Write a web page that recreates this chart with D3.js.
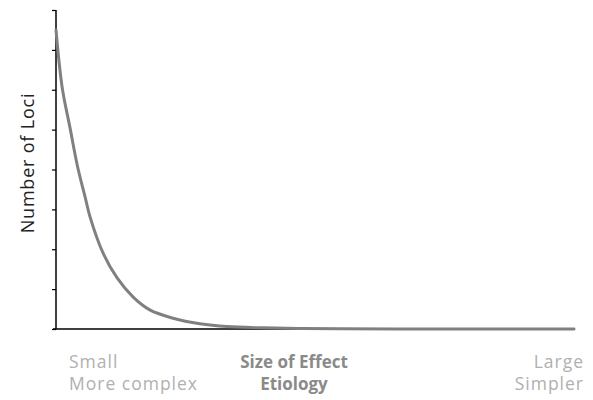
<!DOCTYPE html>
<html><head><meta charset="utf-8">
<script src="https://cdn.jsdelivr.net/npm/d3@7"></script>
<style>body{margin:0;background:#fff}svg{display:block}</style>
</head><body>
<script>
// Effect size (0 = small, 100 = large) and number of loci (arbitrary units)
const effectSize = [0, 1.2, 2.7, 4.2, 5.6, 6.6, 9.1, 11.8, 14.9, 18.1, 22.6, 27.8, 33, 40, 47, 55, 66, 80, 100];
const lociCount  = [7.5, 6.05, 5.05, 4.05, 3.32, 2.8, 1.9, 1.28, 0.8, 0.48, 0.27, 0.13, 0.06, 0.03, 0.015, 0.007, 0.003, 0.001, 0];
const yTicks = [0, 1, 2, 3, 4, 5, 6, 7, 8];
const yTitle = "Number of Loci";
const leftLabels = ["Small", "More complex"];
const centerLabels = ["Size of Effect", "Etiology"];
const rightLabels = ["Large", "Simpler"];

const W = 593, H = 400;
const m = {left: 56, right: 19, top: 10, bottom: 71};
const svg = d3.select("body").append("svg").attr("width", W).attr("height", H);

const x = d3.scaleLinear().domain([0, 100]).range([m.left, W - m.right]);
const y = d3.scaleLinear().domain([0, 8]).range([H - m.bottom, m.top]);

const font = "'Open Sans', sans-serif";

// y axis
const ya = svg.append("g").attr("transform", `translate(${m.left},0)`)
  .call(d3.axisLeft(y).tickValues(yTicks).tickSize(4).tickFormat(""));
ya.select(".domain").attr("stroke", "#000").attr("stroke-width", 1.5).attr("d", `M0,${y(8)}V${y(0)}`);
ya.selectAll(".tick line").attr("stroke", "#000").attr("stroke-width", 1.2);

// x axis
const xa = svg.append("g").attr("transform", `translate(0,${y(0)})`)
  .call(d3.axisBottom(x).tickValues([]).tickSizeOuter(0));
xa.select(".domain").attr("stroke", "#000").attr("stroke-width", 1.5)
  .attr("d", `M${m.left - 3},0H${x(100)}`);

// curve
const data = effectSize.map((e, i) => ({e, v: lociCount[i]}));
svg.append("path").datum(data)
  .attr("fill", "none").attr("stroke", "#808080").attr("stroke-width", 3).attr("stroke-linecap", "round")
  .attr("d", d3.line().x(d => x(d.e)).y(d => y(d.v)).curve(d3.curveCatmullRom.alpha(0.5)));

// y title
svg.append("text").attr("transform", `translate(34,163) rotate(-90)`)
  .attr("text-anchor", "middle").attr("font-family", font).attr("font-size", 18)
  .attr("fill", "#222").attr("letter-spacing", 0.8).text(yTitle);

// bottom labels
const baselines = [368, 390];
leftLabels.forEach((t, i) => svg.append("text").attr("x", 69).attr("y", baselines[i])
  .attr("font-family", font).attr("font-size", 17.5).attr("fill", "#b0b0b0").attr("letter-spacing", 1).text(t));
centerLabels.forEach((t, i) => svg.append("text").attr("x", 294).attr("y", baselines[i])
  .attr("text-anchor", "middle").attr("font-family", font).attr("font-size", 17).attr("font-weight", "bold")
  .attr("fill", "#8a8a8a").text(t));
rightLabels.forEach((t, i) => svg.append("text").attr("x", 584).attr("y", baselines[i])
  .attr("text-anchor", "end").attr("font-family", font).attr("font-size", 17.5).attr("fill", "#b0b0b0").attr("letter-spacing", 1).text(t));
</script>
</body></html>
